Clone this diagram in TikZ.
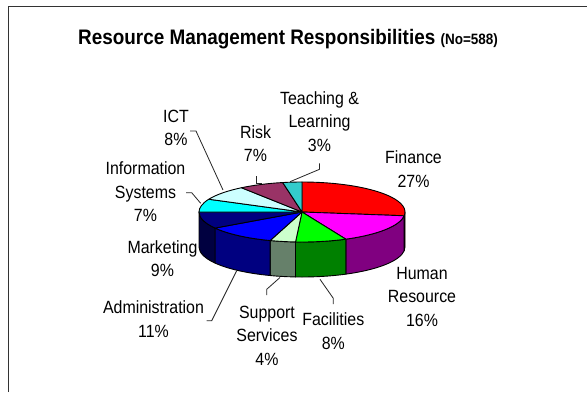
\documentclass[tikz,border=0pt]{standalone}
\usepackage{fontspec}
\newfontfamily\labfont{Liberation Sans}[FakeStretch=0.9]
\definecolor{cFin}{HTML}{FF0000}\definecolor{sFin}{HTML}{800000}
\definecolor{cHR}{HTML}{FF00FF}\definecolor{sHR}{HTML}{800080}
\definecolor{cFac}{HTML}{00FF00}\definecolor{sFac}{HTML}{008000}
\definecolor{cSup}{HTML}{CCFFCC}\definecolor{sSup}{HTML}{66806A}
\definecolor{cAdm}{HTML}{0000FF}\definecolor{sAdm}{HTML}{000080}
\definecolor{cMkt}{HTML}{000080}\definecolor{sMkt}{HTML}{000040}
\definecolor{cIS}{HTML}{00FFFF}
\definecolor{cICT}{HTML}{CCFFFF}
\definecolor{cRisk}{HTML}{993366}
\definecolor{cTL}{HTML}{33CCCC}
\def\cx{302}\def\cy{-212}\def\rx{103}\def\ry{30}\def\dep{35}
\newcommand\topslice[3]{\filldraw[pieedge,fill=#3] (\cx,\cy) -- ({\cx+\rx*cos(#1)},{\cy+\ry*sin(#1)}) arc[start angle=#1,end angle=#2,x radius=\rx,y radius=\ry] -- cycle;}
\newcommand\sideslice[3]{\filldraw[pieedge,fill=#3] ({\cx+\rx*cos(#1)},{\cy+\ry*sin(#1)}) arc[start angle=#1,end angle=#2,x radius=\rx,y radius=\ry] -- ++(0,-\dep) arc[start angle=#2,end angle=#1,x radius=\rx,y radius=\ry] -- cycle;}
\tikzset{
  lab/.style={font=\labfont\fontsize{17.7}{23.5}\selectfont,align=center,inner sep=0pt,anchor=base},
  leader/.style={draw=black!85,line width=0.8pt},
  pieedge/.style={draw=black,line width=0.9pt,line join=round},
}
\begin{document}
\begin{tikzpicture}[x=1pt,y=1pt]
\useasboundingbox (0,0) rectangle (587,-392);
\fill[white] (0,0) rectangle (587,-392);
\draw[line width=1.5pt,black!80] (8.5,-392) -- (8.5,-6.5) -- (587,-6.5);
% title
\node[anchor=base west,inner sep=0pt,font=\labfont\bfseries\fontsize{21}{24}\selectfont] (title) at (78,-44)
  {Resource Management Responsibilities {\fontsize{15}{18}\selectfont (No=588)}};
% sides
\sideslice{0}{-7.2}{sFin}
\sideslice{-7.2}{-64.8}{sHR}
\sideslice{-64.8}{-93.6}{sFac}
\sideslice{-93.6}{-108}{sSup}
\sideslice{-108}{-147.6}{sAdm}
\sideslice{-147.6}{-180}{sMkt}
% tops
\topslice{90}{-7.2}{cFin}
\topslice{-7.2}{-64.8}{cHR}
\topslice{-64.8}{-93.6}{cFac}
\topslice{-93.6}{-108}{cSup}
\topslice{-108}{-147.6}{cAdm}
\topslice{-147.6}{-180}{cMkt}
\topslice{-180}{-205.2}{cIS}
\topslice{-205.2}{-234}{cICT}
\topslice{-234}{-259.2}{cRisk}
\topslice{-259.2}{-270}{cTL}
% labels (anchor = baseline of last line)
\node[lab] (fin) at (413.5,-187.3) {Finance\\27\%};
\node[lab] (hr) at (422,-326) {Human\\Resource\\16\%};
\node[lab] (fac) at (333.3,-349.3) {Facilities\\8\%};
\node[lab] (sup) at (267,-365) {Support\\Services\\4\%};
\node[lab] (adm) at (153.5,-337.3) {Administration\\11\%};
\node[lab] (mkt) at (162.5,-276.7) {Marketing\\9\%};
\node[lab] (is) at (145.5,-221.7) {Information\\Systems\\7\%};
\node[lab] (ict) at (176,-145.7) {ICT\\8\%};
\node[lab] (risk) at (255.5,-161.7) {Risk\\7\%};
\node[lab] (tl) at (319.5,-151) {Teaching \&\\Learning\\3\%};
% leader coordinates
\coordinate (ictA) at (190,-131); \coordinate (ictP) at (223,-190);
\coordinate (isA) at (186,-192.7); \coordinate (isP) at (200.7,-203.3);
\coordinate (riskA) at (256,-176); \coordinate (riskP) at (262,-183);
\coordinate (tlA) at (319.5,-163.3); \coordinate (tlP) at (290,-181.7);
\coordinate (admA) at (206.7,-320.7); \coordinate (admP) at (236.7,-270.7);
\coordinate (supA) at (266.7,-295); \coordinate (supP) at (280,-277.5);
\coordinate (facA) at (333.3,-304); \coordinate (facP) at (320,-279.3);
\draw[leader] (ictA) -- ++(6,0) -- (ictP);
\draw[leader] (isA) -- ++(5.7,0) -- (isP);
\draw[leader] (riskA) -- (riskA |- riskP) -- (riskP);
\draw[leader] (tlA) -- ++(0,-6) -- (tlP);
\draw[leader] (admA) -- ++(5,0) -- (admP);
\draw[leader] (supA) -- ++(0,5.7) -- (supP);
\draw[leader] (facA) -- ++(0,5.7) -- (facP);
\end{tikzpicture}
\end{document}
